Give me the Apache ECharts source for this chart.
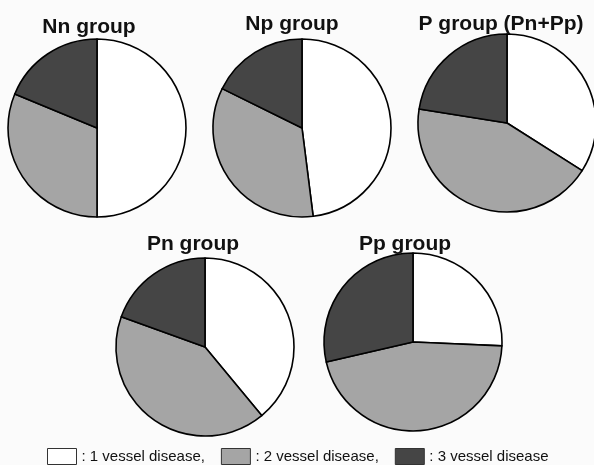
<!DOCTYPE html>
<html><head><meta charset="utf-8">
<script src="https://cdn.jsdelivr.net/npm/echarts@6/dist/echarts.min.js"></script>
<style>html,body{margin:0;padding:0;background:#fbfbfb}#c{width:594px;height:465px}</style>
</head><body><div id="c"></div>
<script>
// Categories (vessel disease)
const categories = ['1 vessel disease', '2 vessel disease', '3 vessel disease'];
// Group names
const groups = ['Nn group', 'Np group', 'P group (Pn+Pp)', 'Pn group', 'Pp group'];
// Values per group (share of patients, %)
const nnValues = [50, 31.25, 18.75];
const npValues = [48, 34.3, 17.7];
const pValues  = [34, 43.5, 22.5];
const pnValues = [39, 41.5, 19.5];
const ppValues = [25.7, 45.7, 28.6];

const allValues = [nnValues, npValues, pValues, pnValues, ppValues];
const colors = ['#ffffff', '#a5a5a5', '#454545'];
const centers = [[97,128],[302,128],[507,123],[205,347],[413,342]];
const titlePos = [[89,17],[292,14],[501,14],[193,234],[405,234]];

const series = allValues.map((vals, i) => ({
  type: 'pie',
  name: groups[i],
  center: centers[i],
  radius: 89,
  startAngle: 90,
  clockwise: true,
  silent: true,
  label: {show: false},
  labelLine: {show: false},
  itemStyle: {borderColor: '#000', borderWidth: 1.6},
  data: vals.map((v, k) => ({name: categories[k], value: v, itemStyle: {color: colors[k]}}))
}));

const titles = groups.map((g, i) => ({
  text: g,
  left: titlePos[i][0],
  top: titlePos[i][1],
  padding: 0,
  textAlign: 'center',
  textStyle: {fontFamily: 'Liberation Sans', fontWeight: 'bold', fontSize: 21, color: '#111'}
}));

const chart = echarts.init(document.getElementById('c'), null, {renderer: 'canvas'});
chart.setOption({
  backgroundColor: '#fbfbfb',
  animation: false,
  title: titles,
  legend: {
    left: 47, top: 448, padding: 0,
    itemWidth: 29, itemHeight: 16, itemGap: 16,
    icon: 'rect',
    selectedMode: false,
    data: categories,
    formatter: (name) => ': ' + name + (name === categories[2] ? '' : ','),
    textStyle: {fontFamily: 'Liberation Sans', fontSize: 15, color: '#111'},
    itemStyle: {borderColor: '#333', borderWidth: 1}
  },
  series: series
});
</script></body></html>
